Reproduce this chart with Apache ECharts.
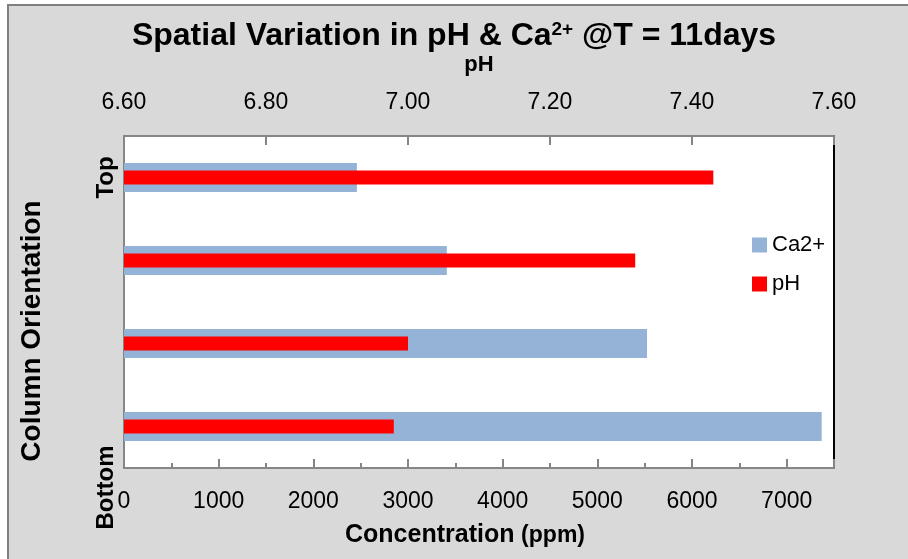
<!DOCTYPE html>
<html>
<head>
<meta charset="utf-8">
<script src="https://cdn.jsdelivr.net/npm/echarts@6/dist/echarts.min.js"></script>
<style>
  html, body { margin: 0; padding: 0; background: #ffffff; }
  #chart { width: 908px; height: 559px; }
</style>
</head>
<body>
<div id="chart"></div>
<script>
// Column positions, listed from the bottom of the column to the top
const orientation = ['Bottom', '', '', 'Top'];
// Calcium concentration (ppm) at each position
const calcium = [7370, 5525, 3410, 2460];
// pH at each position
const phValues = [6.98, 7.00, 7.32, 7.43];

const FONT = '"Liberation Sans", Arial, sans-serif';
const AXIS_GRAY = '#868686';

const chart = echarts.init(document.getElementById('chart'), null, { renderer: 'canvas' });

chart.setOption({
  backgroundColor: 'transparent',
  animation: false,
  graphic: [{
    type: 'rect',
    z: -10,
    silent: true,
    shape: { x: 8, y: 5, width: 920, height: 600 },
    style: { fill: '#d9d9d9', stroke: '#808080', lineWidth: 2 }
  }],
  title: {
    text: 'Spatial Variation in pH & Ca{sup|2+} @T = 11days',
    left: 'center',
    top: 15,
    textStyle: {
      fontFamily: FONT, fontSize: 32, fontWeight: 'bold', color: '#000',
      rich: {
        sup: { fontFamily: FONT, fontSize: 19, fontWeight: 'bold', color: '#000', verticalAlign: 'top', padding: [0, 0, 14, 0] }
      }
    }
  },
  legend: {
    orient: 'vertical',
    left: 747,
    top: 229,
    itemWidth: 15,
    itemHeight: 15,
    itemGap: 17,
    icon: 'rect',
    textStyle: { fontFamily: FONT, fontSize: 22, color: '#000' },
    data: ['Ca2+', 'pH']
  },
  grid: {
    left: 124, top: 136, right: 74, bottom: 91,
    show: true, backgroundColor: '#ffffff', borderWidth: 0,
    outerBoundsMode: 'none', containLabel: false
  },
  xAxis: [{
    type: 'value',
    position: 'bottom',
    min: 0, max: 7500, interval: 1000,
    splitLine: { show: false },
    axisLine: { show: true, onZero: false, lineStyle: { color: AXIS_GRAY, width: 2 } },
    axisTick: { show: true, inside: true, length: 9, lineStyle: { color: AXIS_GRAY, width: 2 } },
    minorTick: { show: true, splitNumber: 2, length: 5, lineStyle: { color: AXIS_GRAY, width: 2 } },
    axisLabel: {
      margin: 22, showMaxLabel: false, fontFamily: FONT, fontSize: 23, color: '#000',
      formatter: v => String(v)
    },
    name: '{c|Concentration}  {p|(ppm)}',
    nameLocation: 'middle',
    nameGap: 55,
    nameTextStyle: {
      padding: [0, 28, 0, 0],
      rich: {
        c: { fontFamily: FONT, fontSize: 25, fontWeight: 'bold', color: '#000' },
        p: { fontFamily: FONT, fontSize: 23, fontWeight: 'bold', color: '#000' }
      }
    }
  }, {
    type: 'value',
    position: 'top',
    min: 6.6, max: 7.6, interval: 0.2,
    splitLine: { show: false },
    axisLine: { show: true, onZero: false, lineStyle: { color: AXIS_GRAY, width: 2 } },
    axisTick: { show: true, inside: true, length: 9, lineStyle: { color: AXIS_GRAY, width: 2 } },
    axisLabel: {
      margin: 22, fontFamily: FONT, fontSize: 23, color: '#000',
      formatter: v => v.toFixed(2)
    },
    name: 'pH',
    nameLocation: 'middle',
    nameGap: 60,
    nameTextStyle: { fontFamily: FONT, fontSize: 22, fontWeight: 'bold', color: '#000' }
  }],
  yAxis: [{
    type: 'category',
    position: 'left',
    data: orientation,
    axisLine: { show: true, onZero: false, lineStyle: { color: AXIS_GRAY, width: 2 } },
    axisTick: { show: false },
    splitLine: { show: false },
    axisLabel: {
      interval: 0,
      rotate: 90,
      margin: 6,
      fontFamily: FONT, fontSize: 24, fontWeight: 'bold', color: '#000',
      formatter: v => v === 'Bottom' ? '{b|' + v + '}' : v,
      rich: {
        b: { fontFamily: FONT, fontSize: 24, fontWeight: 'bold', color: '#000', padding: [0, 122, 0, 0] }
      }
    },
    name: 'Column Orientation',
    nameLocation: 'middle',
    nameGap: 78,
    nameTextStyle: { fontFamily: FONT, fontSize: 28, fontWeight: 'bold', color: '#000', padding: [0, 58, 0, 0] }
  }, {
    type: 'category',
    position: 'right',
    data: orientation,
    axisLine: { show: true, onZero: false, lineStyle: { color: '#000', width: 2 } },
    axisTick: { show: false },
    axisLabel: { show: false },
    splitLine: { show: false }
  }],
  series: [{
    name: 'Ca2+',
    type: 'bar',
    xAxisIndex: 0,
    yAxisIndex: 0,
    barWidth: 29,
    itemStyle: { color: '#95b3d7' },
    data: calcium,
    z: 2
  }, {
    name: 'pH',
    type: 'bar',
    xAxisIndex: 1,
    yAxisIndex: 1,
    barWidth: 14,
    itemStyle: { color: '#ff0000' },
    data: phValues,
    z: 3
  }]
});
</script>
</body>
</html>
